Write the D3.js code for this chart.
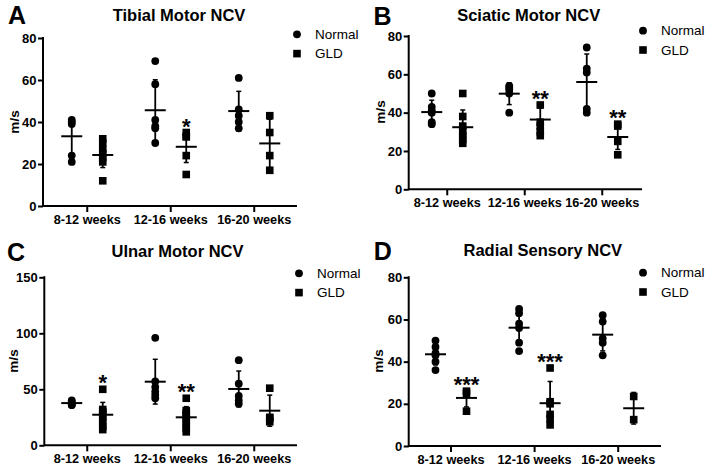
<!DOCTYPE html>
<html>
<head>
<meta charset="utf-8">
<script src="https://cdn.jsdelivr.net/npm/d3@7"></script>
<style>
  html, body { margin: 0; padding: 0; background: #fff; }
  svg { display: block; }
  text { font-family: "Liberation Sans", Arial, Helvetica, sans-serif; fill: #000; }
</style>
</head>
<body>
<svg id="chart" width="714" height="470"></svg>
<script>
// ---------- shared ----------
const categories = ["8-12 weeks", "12-16 weeks", "16-20 weeks"];
const seriesNames = ["Normal", "GLD"];
const yLabel = "m/s";

// ---------- Panel A : Tibial Motor NCV ----------
const titleA = "Tibial Motor NCV";
const ticksA = [0, 20, 40, 60, 80];
const normalA = [[41, 40, 39, 24, 21], [69, 58, 41, 38, 37, 30], [61, 46, 43, 40, 37]];
const gldA = [[32, 30, 27, 25, 23, 21, 12], [35, 33, 33, 24, 15], [43, 35, 24, 17]];
const normalMeanA = [33.2, 45.6, 45.2];
const normalSdA = [8.5, 14.5, 9.4];
const gldMeanA = [24.3, 28.2, 29.8];
const gldSdA = [6.0, 7.5, 11.5];
const sigA = ["", "*", ""];

// ---------- Panel B : Sciatic Motor NCV ----------
const titleB = "Sciatic Motor NCV";
const ticksB = [0, 20, 40, 60, 80];
const normalB = [[50, 43, 41, 40, 35, 34], [54, 53, 52, 50, 40], [74, 63, 61, 42, 40]];
const gldB = [[50, 38, 33, 30, 28, 26, 24], [44, 35, 33, 30, 28], [34, 33, 25, 18]];
const normalMeanB = [40.3, 49.9, 56.0];
const normalSdB = [6.2, 5.7, 14.6];
const gldMeanB = [32.4, 36.4, 27.3];
const gldSdB = [9.0, 6.0, 6.5];
const sigB = ["", "**", "**"];

// ---------- Panel C : Ulnar Motor NCV ----------
const titleC = "Ulnar Motor NCV";
const ticksC = [0, 50, 100, 150];
const normalC = [[40, 39, 37, 36, 36], [96, 57, 52, 48, 45, 42], [76, 55, 44, 40, 37]];
const gldC = [[50, 32, 30, 28, 25, 21, 17, 14], [42, 31, 29, 27, 24, 21, 18, 15, 12], [51, 25, 24, 21]];
const normalMeanC = [37.7, 56.8, 50.3];
const normalSdC = [2.0, 20.0, 16.0];
const gldMeanC = [27.3, 25.0, 30.9];
const gldSdC = [11.0, 9.5, 13.9];
const sigC = ["*", "**", ""];

// ---------- Panel D : Radial Sensory NCV ----------
const titleD = "Radial Sensory NCV";
const ticksD = [0, 20, 40, 60, 80];
const normalD = [[50, 47, 44, 43, 40, 36], [65, 63, 58, 56, 49, 45], [62, 59, 51, 49, 43]];
const gldD = [[26, 25, 16.5], [37, 21, 20, 15, 13, 10], [23.5, 12.5]];
const normalMeanD = [43.5, 56.1, 52.8];
const normalSdD = [5.0, 7.8, 7.7];
const gldMeanD = [22.8, 20.3, 17.9];
const gldSdD = [4.3, 10.3, 7.5];
const sigD = ["***", "***", ""];

// ---------- layout (positions only) ----------
const panels = [
  { letter: "A", title: titleA, ticks: ticksA, normal: normalA, gld: gldA,
    nMean: normalMeanA, nSd: normalSdA, gMean: gldMeanA, gSd: gldSdA, sig: sigA,
    axisX: 43, band: [45.5, 296], yRange: [206, 38],
    letterPos: [8, 24], titlePos: [179, 20.5], yLabPos: [14, 122], legendPos: [297, 34.3] },
  { letter: "B", title: titleB, ticks: ticksB, normal: normalB, gld: gldB,
    nMean: normalMeanB, nSd: normalSdB, gMean: gldMeanB, gSd: gldSdB, sig: sigB,
    axisX: 408.7, band: [408.5, 641], yRange: [189.3, 36],
    letterPos: [373.5, 25], titlePos: [528.7, 20.7], yLabPos: [380, 112], legendPos: [643, 30.7] },
  { letter: "C", title: titleC, ticks: ticksC, normal: normalC, gld: gldC,
    nMean: normalMeanC, nSd: normalSdC, gMean: gldMeanC, gSd: gldSdC, sig: sigC,
    axisX: 44.3, band: [45.5, 296], yRange: [445.3, 277.3],
    letterPos: [7, 260.5], titlePos: [177.5, 256.7], yLabPos: [13, 361], legendPos: [299, 273.3] },
  { letter: "D", title: titleD, ticks: ticksD, normal: normalD, gld: gldD,
    nMean: normalMeanD, nSd: normalSdD, gMean: gldMeanD, gSd: gldSdD, sig: sigD,
    axisX: 408.7, band: [409.2, 660], yRange: [446, 277.3],
    letterPos: [373.7, 260], titlePos: [542.8, 256], yLabPos: [378, 361], legendPos: [643, 272.7] }
];

const svg = d3.select("#chart");
const R = 3.9;      // circle radius
const S = 7.6;      // square side
const MEAN_HALF = 10.5;
const CAP_HALF = 2.5;

function drawPanel(p) {
  const g = svg.append("g");
  const x = d3.scaleBand().domain(categories).range(p.band).padding(0);
  const xs = d3.scalePoint().domain(seriesNames).range([-15.5, 15.5]);
  const yMax = p.ticks[p.ticks.length - 1];
  const y = d3.scaleLinear().domain([0, yMax]).range(p.yRange);
  const cx = (cat, s) => x(cat) + x.bandwidth() / 2 + xs(s);

  // panel letter
  g.append("text").attr("x", p.letterPos[0]).attr("y", p.letterPos[1])
    .attr("font-size", 25).attr("font-weight", "bold").text(p.letter);
  // title
  g.append("text").attr("x", p.titlePos[0]).attr("y", p.titlePos[1])
    .attr("text-anchor", "middle").attr("font-size", 16.5).attr("font-weight", "bold").text(p.title);
  // y label
  g.append("text").attr("transform", `translate(${p.yLabPos[0]},${p.yLabPos[1]}) rotate(-90)`)
    .attr("text-anchor", "middle").attr("dy", "0.35em")
    .attr("font-size", 13.5).attr("font-weight", "bold").text(yLabel);

  // y axis
  const yAxisG = g.append("g").attr("transform", `translate(${p.axisX},0)`)
    .call(d3.axisLeft(y).tickValues(p.ticks).tickSize(5).tickPadding(1.5).tickFormat(d3.format("d")));
  yAxisG.select(".domain").remove();
  yAxisG.selectAll(".tick line").attr("stroke", "#000").attr("stroke-width", 2);
  yAxisG.selectAll(".tick text").attr("font-size", 13).attr("font-weight", "bold")
    .attr("font-family", "Liberation Sans, Arial, sans-serif").attr("fill", "#000");

  // x axis
  const xAxisG = g.append("g").attr("transform", `translate(0,${y(0)})`)
    .call(d3.axisBottom(x).tickSize(6).tickPadding(3));
  xAxisG.select(".domain").remove();
  xAxisG.selectAll(".tick line").attr("stroke", "#000").attr("stroke-width", 2);
  xAxisG.selectAll(".tick text").attr("font-size", 12.7).attr("font-weight", "bold")
    .attr("font-family", "Liberation Sans, Arial, sans-serif").attr("fill", "#000");

  // axis lines
  g.append("path")
    .attr("d", `M${p.axisX},${y(yMax)}V${y(0)}H${p.band[1]}`)
    .attr("fill", "none").attr("stroke", "#000").attr("stroke-width", 2)
    .attr("stroke-linecap", "square");

  categories.forEach((cat, i) => {
    // Normal points (circles)
    g.selectAll(null).data(p.normal[i]).enter().append("circle")
      .attr("cx", cx(cat, "Normal")).attr("cy", d => y(d)).attr("r", R).attr("fill", "#000");
    // GLD points (squares)
    g.selectAll(null).data(p.gld[i]).enter().append("rect")
      .attr("x", cx(cat, "GLD") - S / 2).attr("y", d => y(d) - S / 2)
      .attr("width", S).attr("height", S).attr("fill", "#000");

    // mean +/- SD
    [["Normal", p.nMean[i], p.nSd[i]], ["GLD", p.gMean[i], p.gSd[i]]].forEach(([s, m, sd]) => {
      const xc = cx(cat, s);
      g.append("line").attr("x1", xc - MEAN_HALF).attr("x2", xc + MEAN_HALF)
        .attr("y1", y(m)).attr("y2", y(m)).attr("stroke", "#000").attr("stroke-width", 2);
      g.append("line").attr("x1", xc).attr("x2", xc)
        .attr("y1", y(m - sd)).attr("y2", y(m + sd)).attr("stroke", "#000").attr("stroke-width", 1.8);
      [m - sd, m + sd].forEach(v => {
        g.append("line").attr("x1", xc - CAP_HALF).attr("x2", xc + CAP_HALF)
          .attr("y1", y(v)).attr("y2", y(v)).attr("stroke", "#000").attr("stroke-width", 1.5);
      });
    });

    // significance
    if (p.sig[i]) {
      g.append("text").attr("x", cx(cat, "GLD")).attr("y", y(d3.max(p.gld[i])) + 1)
        .attr("text-anchor", "middle").attr("font-size", 22).attr("font-weight", "bold")
        .text(p.sig[i]);
    }
  });

  // legend
  const [lx, ly] = p.legendPos;
  g.append("circle").attr("cx", lx).attr("cy", ly).attr("r", R).attr("fill", "#000");
  g.append("text").attr("x", lx + 18).attr("y", ly + 4.6).attr("font-size", 13.5).text(seriesNames[0]);
  g.append("rect").attr("x", lx - S / 2).attr("y", ly + 19.3 - S / 2).attr("width", S).attr("height", S).attr("fill", "#000");
  g.append("text").attr("x", lx + 18).attr("y", ly + 19.3 + 4.6).attr("font-size", 13.5).text(seriesNames[1]);
}

panels.forEach(drawPanel);
</script>
</body>
</html>
